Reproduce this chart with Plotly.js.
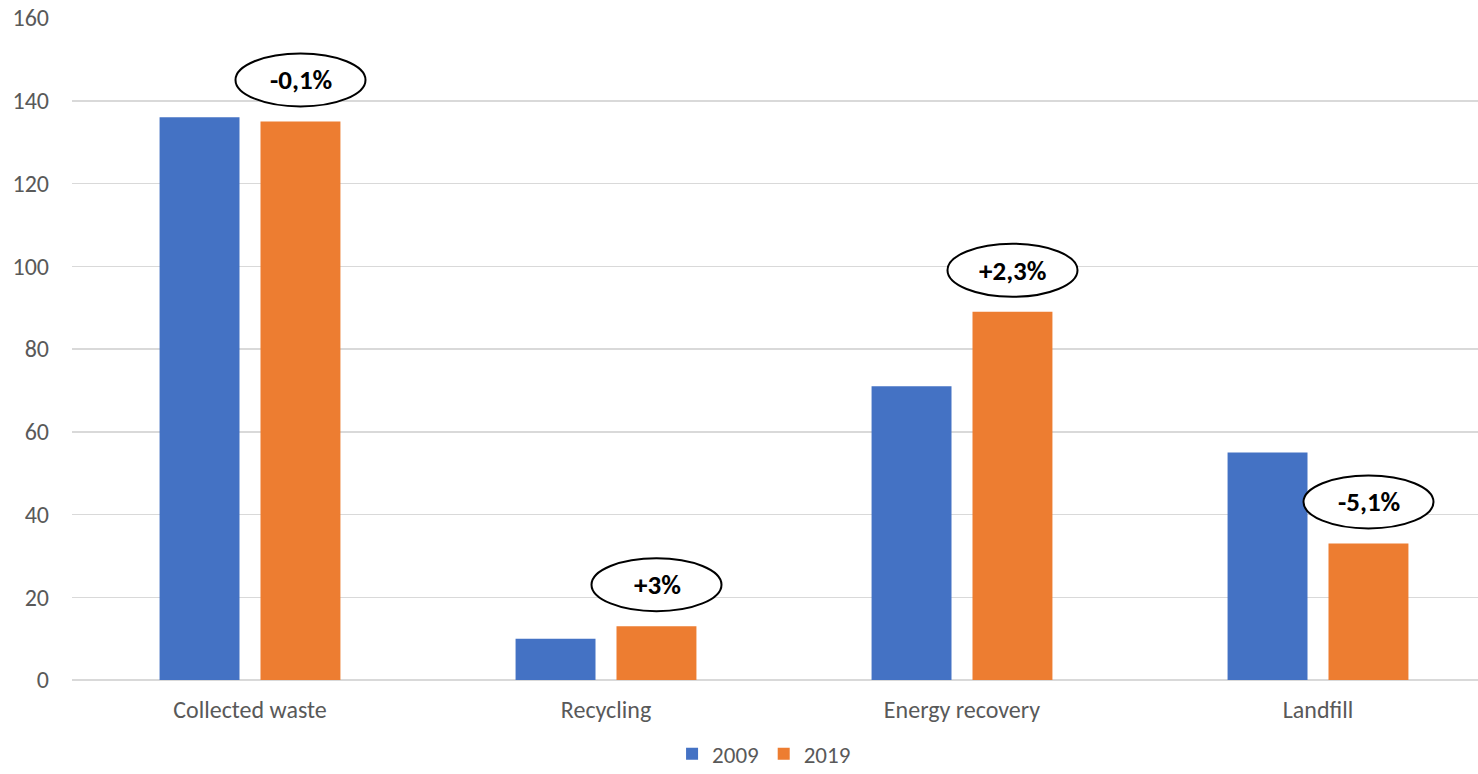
<!DOCTYPE html>
<html>
<head>
<meta charset="utf-8">
<script src="https://cdn.plot.ly/plotly-3.0.1.min.js"></script>
<style>
html, body { margin:0; padding:0; overflow:hidden; background:#fff; }
#chart { width:1500px; height:774px; }
</style>
</head>
<body>
<div id="chart"></div>
<script>
const categories = ["Collected waste", "Recycling", "Energy recovery", "Landfill"];
const values2009 = [136, 10, 71, 55];
const values2019 = [135, 13, 89, 33];
const changeLabels = ["-0,1%", "+3%", "+2,3%", "-5,1%"];
const yTicks = [0, 20, 40, 60, 80, 100, 120, 140, 160];

const FONT = "Carlito, Lato, 'Open Sans', sans-serif";
const BLUE = "#4472C4", ORANGE = "#ED7D31";

const traces = [
  { type: "bar", name: "2009", x: categories, y: values2009, marker: { color: BLUE } },
  { type: "bar", name: "2019", x: categories, y: values2019, marker: { color: ORANGE } }
];

const shapes = [], annotations = [];
categories.forEach((c, i) => {
  shapes.push({
    type: "circle", xref: "x", yref: "y",
    xsizemode: "pixel", ysizemode: "pixel",
    xanchor: i, yanchor: values2019[i],
    x0: 50.5 - 65, x1: 50.5 + 65,
    y0: 15, y1: 68,
    line: { color: "#000", width: 2 }, fillcolor: "rgba(255,255,255,1)", layer: "above"
  });
  annotations.push({
    x: i, y: values2019[i], xref: "x", yref: "y",
    text: "<b>" + changeLabels[i] + "</b>", showarrow: false,
    xshift: 51, yshift: 41.5,
    font: { family: FONT, size: 27, color: "#000" }
  });
});

const layout = {
  width: 1500, height: 774,
  margin: { l: 72, r: 4, t: 18, b: 94, autoexpand: false },
  paper_bgcolor: "#fff", plot_bgcolor: "#fff",
  barmode: "group", bargap: 0.433, bargroupgap: 0.208,
  font: { family: FONT, color: "#595959", size: 24 },
  xaxis: {
    type: "category", showgrid: false, showline: false, zeroline: false, automargin: false,
    ticks: "", tickfont: { size: 24, color: "#595959" }, ticklabelstandoff: 13
  },
  yaxis: {
    range: [0, 160], tickvals: yTicks, ticktext: yTicks.map(String), automargin: false,
    showgrid: true, gridcolor: "#D9D9D9", gridwidth: 1.5,
    zeroline: true, zerolinecolor: "#D9D9D9", zerolinewidth: 1.5,
    showline: false, ticks: "", tickfont: { size: 24, color: "#595959" },
    ticklabelstandoff: 22
  },
  showlegend: true,
  legend: {
    orientation: "h", xref: "paper", x: 0.486, xanchor: "center",
    yref: "container", y: 0.026, yanchor: "middle",
    font: { size: 23, color: "#595959" }, traceorder: "normal", itemwidth: 30
  },
  shapes: shapes, annotations: annotations
};

Plotly.newPlot("chart", traces, layout, { displayModeBar: false, staticPlot: true });
</script>
</body>
</html>
